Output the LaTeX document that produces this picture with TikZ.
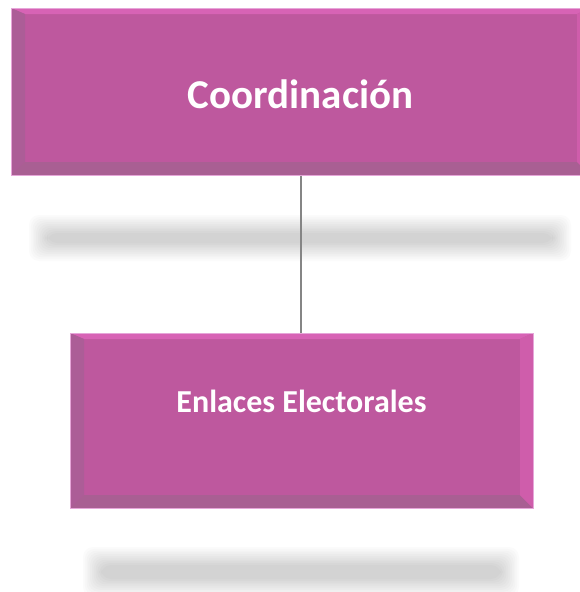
\documentclass[tikz,border=0pt]{standalone}
\usepackage{fontspec}
\setmainfont{Carlito}
\definecolor{boxmain}{HTML}{BE589E}
\definecolor{boxtop}{HTML}{D763B5}
\definecolor{boxleft}{HTML}{AC5D97}
\definecolor{boxbottom}{HTML}{A95F93}
\definecolor{boxright}{HTML}{CF5DAB}
\definecolor{boxedge}{HTML}{E6A6D9}
\definecolor{linkgray}{HTML}{858585}
\tikzset{
  bevelbox/.style={fill=boxmain, draw=boxedge, line width=1pt, text=white,
    font=\bfseries, inner sep=0pt,
    path picture={
      \fill[boxtop] (path picture bounding box.north west) -- (path picture bounding box.north east)
        -- ([xshift=-13pt,yshift=-6pt]path picture bounding box.north east)
        -- ([xshift=14pt,yshift=-6pt]path picture bounding box.north west) -- cycle;
      \fill[boxleft] (path picture bounding box.north west) -- (path picture bounding box.south west)
        -- ([xshift=14pt,yshift=13pt]path picture bounding box.south west)
        -- ([xshift=14pt,yshift=-6pt]path picture bounding box.north west) -- cycle;
      \fill[boxbottom] (path picture bounding box.south west) -- (path picture bounding box.south east)
        -- ([xshift=-13pt,yshift=13pt]path picture bounding box.south east)
        -- ([xshift=14pt,yshift=13pt]path picture bounding box.south west) -- cycle;
      \fill[boxright] (path picture bounding box.north east) -- (path picture bounding box.south east)
        -- ([xshift=-13pt,yshift=13pt]path picture bounding box.south east)
        -- ([xshift=-13pt,yshift=-6pt]path picture bounding box.north east) -- cycle;
    }},
  shadowlayer/.style={fill=black, fill opacity=0.0155, rounded corners=#1},
  link/.style={draw=linkgray, line width=1.2pt}
}
\begin{document}
\begin{tikzpicture}[x=1pt,y=-1pt]
\useasboundingbox (0,0) rectangle (580,592);
\clip (0,0) rectangle (580,592);
\fill[white] (0,0) rectangle (580,592);
% blurred shadow bars
\foreach \e in {-9,-7.2,...,9.1} {
  \fill[shadowlayer=10pt] (38-\e,224-\e) rectangle (562+\e,252+\e);
  \fill[shadowlayer=10pt] (92-\e,556-\e) rectangle (510+\e,588+\e);
}
% boxes
\node[bevelbox, minimum width=579pt, minimum height=167pt] (coord) at (300.5,91.5)
  {\fontsize{41}{41}\selectfont\raisebox{-16.5pt}[0pt][0pt]{Coordinación}};
\node[bevelbox, minimum width=463pt, minimum height=175pt] (enl) at (301.5,420.5)
  {\fontsize{32}{32}\selectfont\raisebox{8.5pt}[0pt][0pt]{Enlaces Electorales}};
\draw[link] (coord.south -| 301,0) -- (enl.north -| 301,0);
\end{tikzpicture}
\end{document}
